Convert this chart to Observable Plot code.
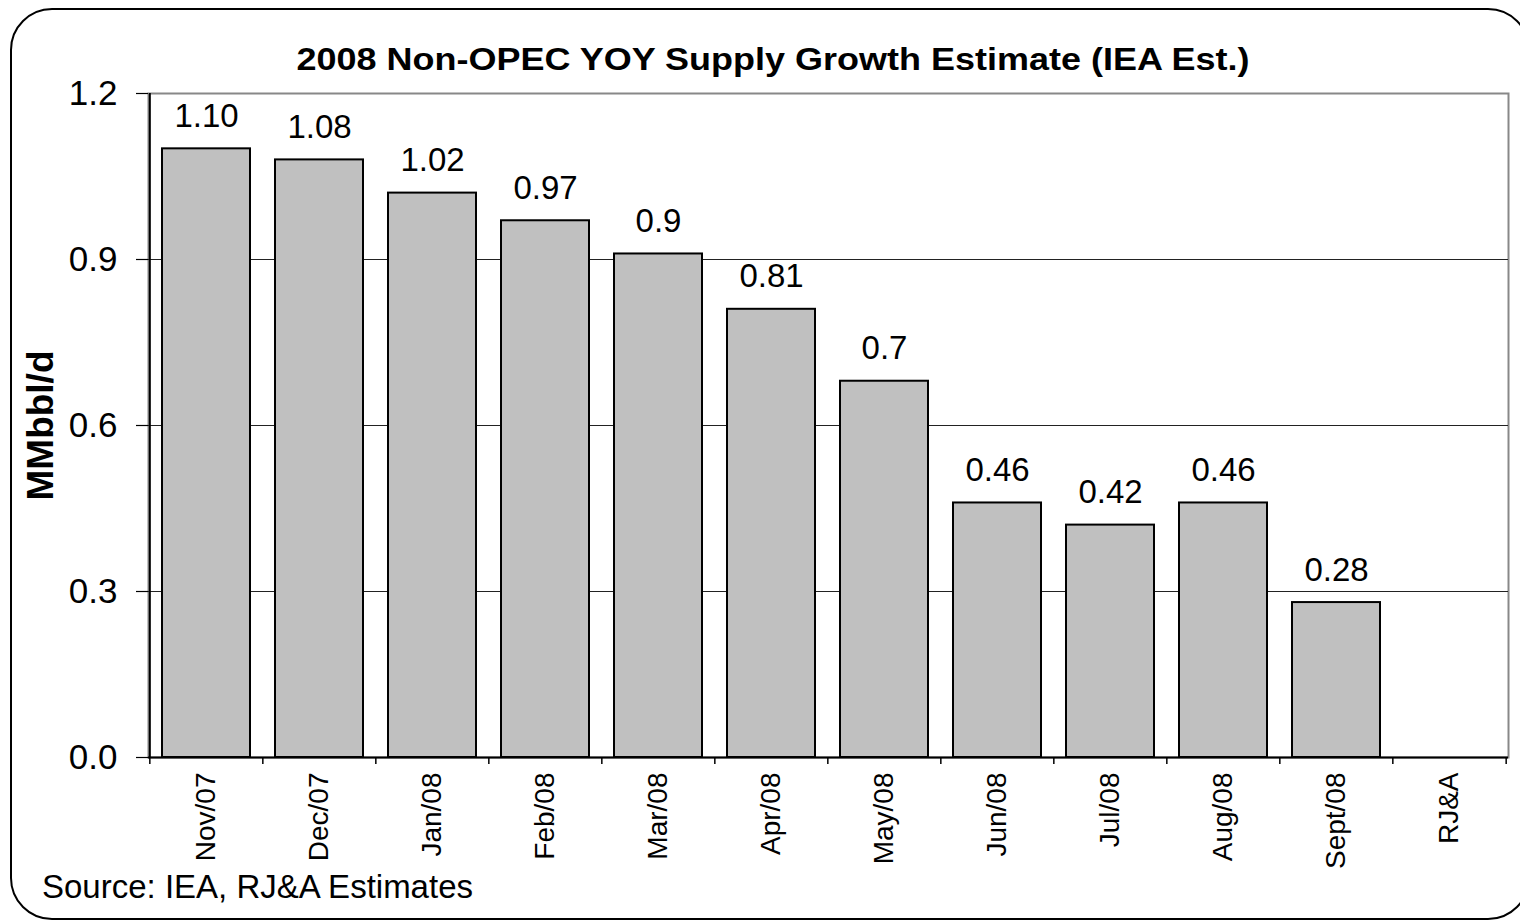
<!DOCTYPE html>
<html>
<head>
<meta charset="utf-8">
<script src="https://cdn.jsdelivr.net/npm/d3@7"></script>
<script src="https://cdn.jsdelivr.net/npm/@observablehq/plot@0.6"></script>
<style>
  html, body { margin: 0; padding: 0; background: #fff; overflow: hidden; }
  #wrap { position: relative; width: 1520px; height: 921px; overflow: hidden; font-family: "Liberation Sans", Arial, sans-serif; }
  #border { position: absolute; left: 10px; top: 8px; width: 1520px; height: 912px; border: 2px solid #000; border-radius: 42px; box-sizing: border-box; }
  #title { position: absolute; left: 0; top: 0; }
  #chart { position: absolute; left: 0; top: 0; }
  #source { position: absolute; left: 42px; top: 868px; font-size: 33px; color: #000; white-space: nowrap; }
</style>
</head>
<body>
<div id="wrap">
  <div id="border"></div>
  <div id="chart"></div>
  <svg id="title" width="1520" height="90">
    <text x="773" y="70" text-anchor="middle" font-family="Liberation Sans, Arial, sans-serif" font-weight="bold" font-size="32" textLength="953" lengthAdjust="spacingAndGlyphs">2008 Non-OPEC YOY Supply Growth Estimate (IEA Est.)</text>
  </svg>
  <div id="source">Source: IEA, RJ&amp;A Estimates</div>
</div>
<script>
const categories = ["Nov/07", "Dec/07", "Jan/08", "Feb/08", "Mar/08", "Apr/08", "May/08", "Jun/08", "Jul/08", "Aug/08", "Sept/08", "RJ&A"];
const values = [1.10, 1.08, 1.02, 0.97, 0.91, 0.81, 0.68, 0.46, 0.42, 0.46, 0.28, null];
const valueLabels = ["1.10", "1.08", "1.02", "0.97", "0.9", "0.81", "0.7", "0.46", "0.42", "0.46", "0.28", ""];
const yTicks = [0, 0.3, 0.6, 0.9, 1.2];
const gridTicks = [0.3, 0.6, 0.9];

const data = categories.map((c, i) => ({cat: c, value: values[i], label: valueLabels[i]}));

const W = 1520, H = 921;
const mL = 148, mR = 12, mT = 93, mB = 164;
const step = (W - mL - mR) / categories.length;

const chart = Plot.plot({
  width: W,
  height: H,
  marginLeft: mL,
  marginRight: mR,
  marginTop: mT,
  marginBottom: mB,
  style: {fontFamily: "Liberation Sans, Arial, sans-serif", color: "#000", background: "transparent", overflow: "visible"},
  x: {type: "band", domain: categories, paddingInner: 0.22, paddingOuter: 0.11, label: null},
  y: {domain: [0, 1.2], label: null},
  marks: [
    Plot.frame({stroke: "#888", strokeWidth: 2}),
    Plot.gridY(gridTicks, {stroke: "#222", strokeOpacity: 1, strokeWidth: 1}),
    Plot.barY(data.filter(d => d.value != null), {x: "cat", y: "value", fill: "#C0C0C0", stroke: "#000", strokeWidth: 2}),
    Plot.text(data.filter(d => d.value != null), {x: "cat", y: "value", text: "label", dy: -22, lineAnchor: "bottom", fontSize: 33, fill: "#000"}),
    Plot.ruleY([0], {stroke: "#000", strokeWidth: 2}),
    Plot.ruleX([categories[0]], {y1: 0, y2: 1.2, dx: -step / 2, stroke: "#000", strokeWidth: 2}),
    Plot.axisY({ticks: yTicks, tickFormat: d3.format(".1f"), tickSize: 12, tickPadding: 19, fontSize: 35, stroke: "#000", strokeWidth: 1.2, label: null}),
    Plot.axisX({ticks: categories, tickFormat: () => "", tickSize: 7, dx: -step / 2, stroke: "#000", strokeWidth: 1.5, label: null}),
    Plot.axisX({ticks: [categories[categories.length - 1]], tickFormat: () => "", tickSize: 7, dx: step / 2, stroke: "#000", strokeWidth: 1.5, label: null}),
    Plot.axisX({tickSize: 0, tickPadding: 15, tickRotate: -90, fontSize: 28, label: null}),
    Plot.text(["MMbbl/d"], {frameAnchor: "left", rotate: -90, dx: -107, textAnchor: "middle", lineAnchor: "middle", fontSize: 37, fontWeight: "bold", fill: "#000"})
  ]
});
document.getElementById("chart").appendChild(chart);
</script>
</body>
</html>
